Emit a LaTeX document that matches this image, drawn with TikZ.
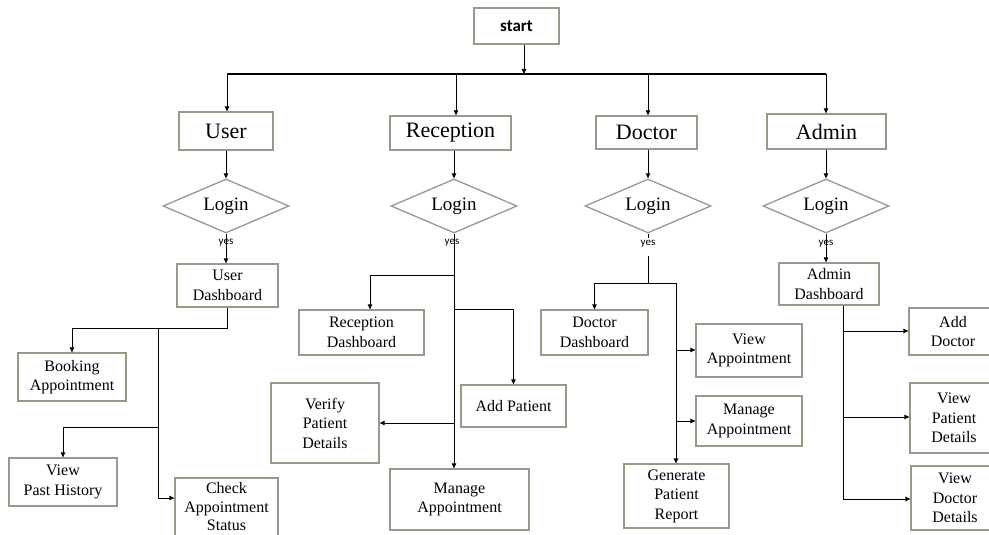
\documentclass[tikz,border=0pt]{standalone}
\usepackage{fontspec}
\setmainfont{Liberation Serif}
\newfontfamily\carlito{Carlito}
\usetikzlibrary{arrows.meta,shapes.geometric,calc}
\definecolor{boxline}{HTML}{969B88}
\begin{document}
\begin{tikzpicture}[x=1pt,y=-1pt,
  box/.style={draw=boxline,line width=1.3pt,fill=white,inner sep=0pt,align=center},
  topbox/.style={box,font=\fontsize{22}{26}\selectfont},
  subbox/.style={box,font=\fontsize{16}{19.5}\selectfont},
  logind/.style={diamond,draw=boxline,line width=1.3pt,fill=white,inner sep=0pt,aspect=2.33,
     minimum width=126pt,minimum height=54pt,font=\fontsize{19}{22}\selectfont},
  conn/.style={draw=black,line width=0.9pt},
  arr/.style={conn,-{Triangle[length=5pt,width=4.5pt]}},
  yeslbl/.style={font=\carlito\fontsize{11}{12}\selectfont,inner sep=0pt}
]
\useasboundingbox[fill=white] (0,0) rectangle (989,535);

% start
\node[box,minimum width=85pt,minimum height=36pt,font=\carlito\bfseries\fontsize{17}{20}\selectfont] (start) at (516.5,26) {start};

% top level
\node[topbox,minimum width=94pt,minimum height=38pt] (user) at (226,131) {User};
\node[topbox,minimum width=121pt,minimum height=34pt] (rec) at (450.5,133) {Reception};
\node[topbox,minimum width=101pt,minimum height=33pt] (doc) at (646.5,132.5) {Doctor};
\node[topbox,minimum width=119pt,minimum height=35pt] (adm) at (826.5,131.5) {Admin};

% login diamonds
\node[logind] (ul) at (226,206) {Login};
\node[logind] (rl) at (454,206) {Login};
\node[logind] (dl) at (648,206) {Login};
\node[logind] (al) at (826,206) {Login};

% user branch
\node[subbox,minimum width=101pt,minimum height=43pt] (ud) at (227.5,285.5) {User\\Dashboard};
\node[subbox,minimum width=108pt,minimum height=48pt] (book) at (72,377) {Booking\\Appointment};
\node[subbox,minimum width=108pt,minimum height=48pt] (hist) at (63,482) {View\\Past History};
\node[subbox,minimum width=103pt,minimum height=58pt,font=\fontsize{16}{18.5}\selectfont] (chk) at (226.5,507) {Check\\Appointment\\Status};

% reception branch
\node[subbox,minimum width=125pt,minimum height=45pt] (rd) at (361.5,332.5) {Reception\\Dashboard};
\node[subbox,minimum width=105pt,minimum height=42pt] (ap) at (513.5,406) {Add Patient};
\node[subbox,minimum width=108pt,minimum height=80pt] (vp) at (325,423) {Verify\\Patient\\Details};
\node[subbox,minimum width=139pt,minimum height=61pt] (rm) at (459.5,499.5) {Manage\\Appointment};

% doctor branch
\node[subbox,minimum width=107pt,minimum height=45pt] (dd) at (594.5,332.5) {Doctor\\Dashboard};
\node[subbox,minimum width=106pt,minimum height=53pt] (va) at (749,350.5) {View\\Appointment};
\node[subbox,minimum width=106pt,minimum height=50pt] (dm) at (749,421) {Manage\\Appointment};
\node[subbox,minimum width=105pt,minimum height=64pt] (gen) at (676.5,496) {Generate\\Patient\\Report};

% admin branch
\node[subbox,minimum width=100pt,minimum height=42pt] (ad) at (829,284) {Admin\\Dashboard};
\node[subbox,minimum width=88pt,minimum height=47pt] (adoc) at (953,331.5) {Add\\Doctor};
\node[subbox,minimum width=88pt,minimum height=70pt] (vpd) at (954,418) {View\\Patient\\Details};
\node[subbox,minimum width=88pt,minimum height=64pt] (vdd) at (955,498) {View\\Doctor\\Details};

% junction coordinates
\coordinate (j0) at (524,74);
\coordinate (ju) at (227,74);
\coordinate (jr) at (456,74);
\coordinate (jd) at (648,74);
\coordinate (ja) at (826,74);
\coordinate (u1) at (158,328);
\coordinate (u2) at (158,427);
\coordinate (u3) at (158,498);
\coordinate (r1) at (454,275);
\coordinate (r2) at (454,309);
\coordinate (r3) at (454,423);
\coordinate (rdx) at (370,275);
\coordinate (d0) at (648,256);
\coordinate (d1) at (648,283);
\coordinate (d2) at (676,283);
\coordinate (d3) at (676,350);
\coordinate (d4) at (676,421);
\coordinate (a1) at (843,331);
\coordinate (a2) at (843,417);
\coordinate (a3) at (843,499);

% start connectors
\draw[arr] (start.south -| j0) -- (j0);
\draw[conn,line width=1.1pt] (ju) -- (ja);
\draw[arr] (ju) -- (ju |- user.north);
\draw[arr] (jr) -- (jr |- rec.north);
\draw[arr] (jd) -- (jd |- doc.north);
\draw[arr] (ja) -- (ja |- adm.north);

% top to login
\draw[arr] (user.south) -- (ul.north);
\draw[arr] (rl.north |- rec.south) -- (rl.north);
\draw[arr] (dl.north |- doc.south) -- (dl.north);
\draw[arr] (al.north |- adm.south) -- (al.north);

% user
\draw[arr] (ul.south) -- (ul.south |- ud.north);
\draw[arr] (ud.south) |- (book.north |- u1) -- (book.north);
\draw[conn] (u1) -- (u3);
\draw[arr] (u3) -- (u3 -| chk.west);
\draw[arr] (u2) -| (hist.north);

% reception
\draw[arr] (rl.south) -- (rl.south |- rm.north);
\draw[arr] (r1) -- (rdx) -- (rdx |- rd.north);
\draw[arr] (r2) -| (ap.north);
\draw[arr] (r3) -- (r3 -| vp.east);

% doctor
\draw[conn] (dl.south) -- ++(0,4);
\draw[conn] (d0) -- (d1);
\draw[arr] (d2) -| (dd.north);
\draw[arr] (d2) -- (d2 |- gen.north);
\draw[arr] (d3) -- (d3 -| va.west);
\draw[arr] (d4) -- (d4 -| dm.west);

% admin
\draw[arr] (al.south) -- (al.south |- ad.north);
\draw[conn] (ad.south -| a1) -- (a3);
\draw[arr] (a1) -- (a1 -| adoc.west);
\draw[arr] (a2) -- (a2 -| vpd.west);
\draw[arr] (a3) -- (a3 -| vdd.west);

% yes labels
\node[yeslbl] (y1) at (226,243) {yes};
\node[yeslbl] (y2) at (452,243) {yes};
\node[yeslbl] (y3) at (648,244) {yes};
\node[yeslbl] (y4) at (826,244) {yes};
\end{tikzpicture}
\end{document}
